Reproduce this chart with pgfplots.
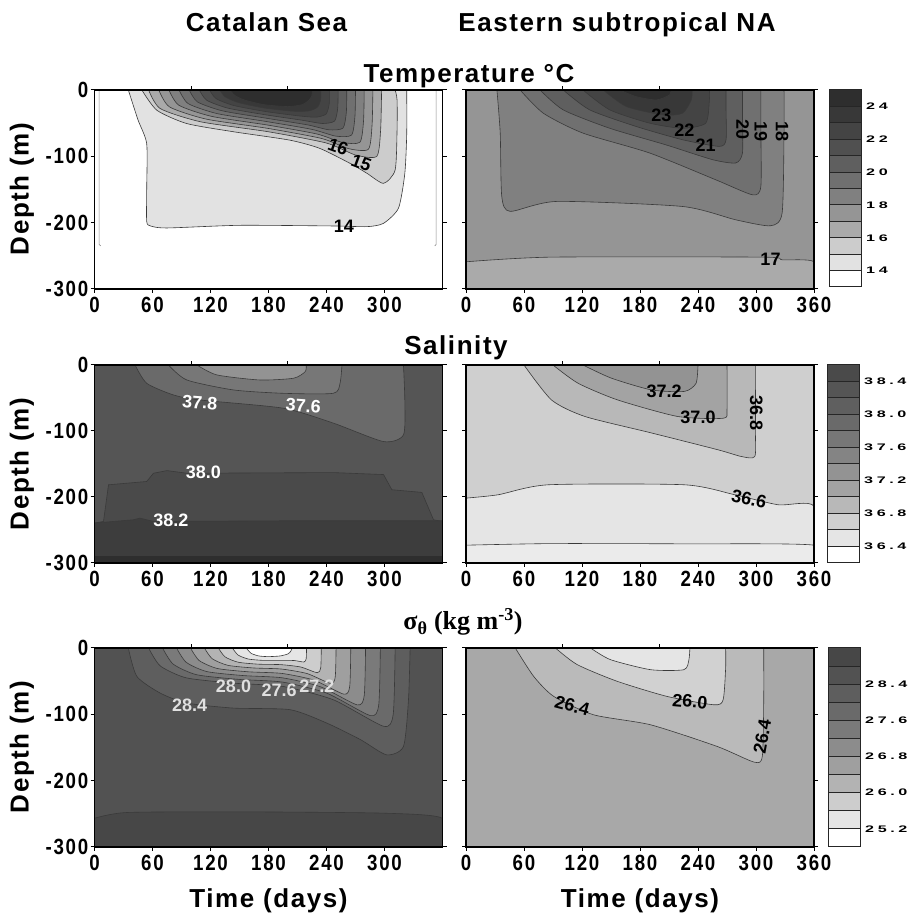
\documentclass[border=0pt]{standalone}
\usepackage{fontspec}
\setmainfont{Liberation Sans}
\newfontfamily\sigfont{Liberation Serif}
\newfontfamily\ttlfont[LetterSpace=6]{Liberation Sans}
\newfontfamily\tickfont[FakeStretch=0.85,LetterSpace=8]{Liberation Sans}
\newfontfamily\cbfont[FakeStretch=1.7,LetterSpace=38]{Liberation Sans}
\usepackage{pgfplots}
\pgfplotsset{compat=1.18}

% temperature shades
\definecolor{t13}{HTML}{FFFFFF}\definecolor{t14}{HTML}{E2E2E2}\definecolor{t15}{HTML}{CCCCCC}
\definecolor{t16}{HTML}{AAAAAA}\definecolor{t17}{HTML}{959595}\definecolor{t18}{HTML}{808080}
\definecolor{t19}{HTML}{707070}\definecolor{t20}{HTML}{5F5F5F}\definecolor{t21}{HTML}{505050}
\definecolor{t22}{HTML}{444444}\definecolor{t23}{HTML}{383838}\definecolor{t24}{HTML}{2E2E2E}
% salinity shades
\definecolor{s0}{HTML}{FFFFFF}\definecolor{s1}{HTML}{E5E5E5}\definecolor{s2}{HTML}{CFCFCF}
\definecolor{s3}{HTML}{B8B8B8}\definecolor{s4}{HTML}{A3A3A3}\definecolor{s5}{HTML}{939393}
\definecolor{s6}{HTML}{848484}\definecolor{s7}{HTML}{777777}\definecolor{s8}{HTML}{6A6A6A}
\definecolor{s9}{HTML}{5F5F5F}\definecolor{s10}{HTML}{555555}\definecolor{s11}{HTML}{4A4A4A}
% sigma shades
\definecolor{g0}{HTML}{FFFFFF}\definecolor{g1}{HTML}{E5E5E5}\definecolor{g2}{HTML}{CDCDCD}
\definecolor{g3}{HTML}{B3B3B3}\definecolor{g4}{HTML}{9F9F9F}\definecolor{g5}{HTML}{8C8C8C}
\definecolor{g6}{HTML}{7A7A7A}\definecolor{g7}{HTML}{6A6A6A}\definecolor{g8}{HTML}{5E5E5E}
\definecolor{g9}{HTML}{525252}\definecolor{g10}{HTML}{474747}
\definecolor{cline}{HTML}{3A3A3A}

\pgfplotsset{
  panel/.style={
    anchor=south west, scale only axis, width=348pt,
    xmin=0, xmax=360, ymin=-300, ymax=0,
    axis on top, axis line style={line width=1.1pt},
    tick align=outside, major tick length=4pt,
    tick style={line width=1pt, black},
    xtick pos=bottom, ytick pos=both,
    ytick={-300,-200,-100,0}, yticklabels={-300,-200,-100,0},
    ticklabel style={font=\tickfont\fontsize{22}{22}\selectfont\bfseries, inner sep=2pt},
    xticklabel style={yshift=-2pt},
    extra description/.code={
      \draw[line width=1pt] (axis description cs:0.2778,1) -- ++(0pt,4pt);
      \draw[line width=1pt] (axis description cs:0.5556,1) -- ++(0pt,4pt);
    },
  },
  lpanel/.style={panel, xtick={0,60,...,300}, xticklabels={0,60,120,180,240,300}},
  rpanel/.style={panel, xtick={0,60,...,360}, xticklabels={0,60,120,180,240,300,360}, yticklabels={}},
  cl/.style={draw=cline, line width=0.6pt, smooth, tension=0.4},
  cbar/.style={
    anchor=south west, scale only axis, width=32pt, xmin=0, xmax=1,
    axis line style={draw=none}, xtick=\empty, yticklabel pos=right,
    major tick length=0pt, ytick style={draw=none}, clip=false,
    yticklabel style={font=\cbfont\fontsize{9.5}{9.5}\selectfont\bfseries, inner sep=0pt, xshift=5pt},
  },
  cb/.style={draw=black!85, line width=1pt},
}
\tikzset{
  ttl/.style={font=\ttlfont\fontsize{26}{26}\selectfont\bfseries, inner sep=0pt},
  lab/.style={font=\fontsize{18}{18}\selectfont\bfseries, inner sep=0pt},
}

\begin{document}
\begin{tikzpicture}
\useasboundingbox (0pt,0pt) rectangle (912pt,919pt);

% ---------------- titles ----------------
\node[ttl, anchor=base] at (266.5pt,887pt) {Catalan Sea};
\node[ttl, anchor=base] at (617pt,887pt) {Eastern subtropical NA};
\node[ttl, anchor=base] at (469pt,836pt) {Temperature °C};
\node[ttl, anchor=base] at (456pt,564pt) {Salinity};
\node[anchor=base, inner sep=0pt, font=\sigfont\fontsize{26}{26}\selectfont\bfseries] at (463pt,289pt) {σ\textsubscript{θ} (kg m\textsuperscript{-3})};
\node[ttl, anchor=base] at (268.5pt,11pt) {Time (days)};
\node[ttl, anchor=base] at (640pt,11pt) {Time (days)};
\node[ttl, rotate=90] at (22pt,730pt) {Depth (m)};
\node[ttl, rotate=90] at (22pt,455pt) {Depth (m)};
\node[ttl, rotate=90] at (22pt,172pt) {Depth (m)};

% ---------------- temperature, Catalan ----------------
\begin{axis}[lpanel, at={(94.5pt,630pt)}, height=199pt, axis background/.style={fill=t13}]
\addplot[cl, fill=t14] coordinates {(35,0)(45,-45)(54,-81)(54,-150)(54,-198)(58,-205)(75,-208)(150,-204)(247,-205)(282,-206)(299,-201)(314.5,-178)(321,-126)(323,-66)(323,0)} -- cycle;
\addplot[cl, fill=t15] coordinates {(49,0)(64.5,-30.5)(95.5,-50.6)(144,-63)(202,-75.6)(233,-88)(264.5,-110.7)(282,-125.7)(299,-140.7)(311,-120.7)(313,-60)(313,-15)(311,0)} -- cycle;
\addplot[cl, fill=t16] coordinates {(56,0)(68,-28)(110,-48)(180,-63)(240,-80)(270,-98)(292,-100)(296,-60)(297,0)} -- cycle;
\addplot[cl, fill=t17] coordinates {(66.5,0)(77.6,-25.5)(115.6,-43.9)(179.4,-57.9)(235,-73.1)(263.1,-88.5)(283.3,-89.4)(287.1,-53.5)(288,0)} -- cycle;
\addplot[cl, fill=t18] coordinates {(77,0)(87.3,-23)(121.3,-39.8)(178.8,-52.8)(230,-66.3)(256.3,-79)(274.5,-78.8)(278.3,-47)(279,0)} -- cycle;
\addplot[cl, fill=t19] coordinates {(87.5,0)(96.9,-20.5)(126.9,-35.6)(178.1,-47.6)(225,-59.4)(249.4,-69.5)(265.8,-68.1)(269.4,-40.5)(270,0)} -- cycle;
\addplot[cl, fill=t20] coordinates {(98,0)(106.5,-18)(132.5,-31.5)(177.5,-42.5)(220,-52.5)(242.5,-60)(257,-57.5)(260.5,-34)(261,0)} -- cycle;
\addplot[cl, fill=t21] coordinates {(108.5,0)(116.1,-15.5)(138.1,-27.4)(176.9,-37.4)(215,-45.6)(235.6,-50.5)(248.3,-46.9)(251.6,-27.5)(252,0)} -- cycle;
\addplot[cl, fill=t22] coordinates {(119,0)(125.8,-13)(143.8,-23.3)(176.3,-32.3)(210,-38.8)(228.8,-41)(239.5,-36.3)(242.8,-21)(243,0)} -- cycle;
\addplot[cl, fill=t23] coordinates {(129.5,0)(135.4,-10.5)(149.4,-19.1)(175.6,-27.1)(205,-31.9)(221.9,-31.5)(230.8,-25.6)(233.9,-14.5)(234,0)} -- cycle;
\addplot[cl, fill=t24] coordinates {(140,0)(145,-8)(155,-15)(175,-22)(200,-25)(215,-22)(222,-15)(225,-8)(225,0)} -- cycle;
\addplot[draw=black!45, line width=0.6pt] coordinates {(4.8,0)(4.8,-233)(6.5,-235)};
\addplot[draw=black!45, line width=0.6pt] coordinates {(353.4,0)(353.4,-233)(352,-235)};
\node[lab, rotate=-20] at (axis cs:252,-86) {16};
\node[lab, rotate=-20] at (axis cs:276,-110) {15};
\node[lab] at (axis cs:258,-205) {14};
\end{axis}

% ---------------- temperature, Eastern NA ----------------
\begin{axis}[rpanel, at={(466pt,630pt)}, height=199pt, axis background/.style={fill=t17}]
\addplot[cl, fill=t16] coordinates {(0,-259)(87,-252)(307,-252)(327,-256)(360,-259)(360,-300)(0,-300)} -- cycle;
\addplot[cl, fill=t18] coordinates {(32,0)(35.4,-65)(37,-160.5)(45.7,-183)(93.8,-168)(224,-175.6)(279,-195.7)(315,-204.7)(327,-185.6)(329,-65)(329,0)} -- cycle;
\addplot[cl, fill=t19] coordinates {(56,0)(80,-35)(121,-65)(190,-95)(258.6,-135.5)(296.4,-158)(305,-145.5)(305,-60)(305,0)} -- cycle;
\addplot[cl, fill=t20] coordinates {(76.6,0)(100.6,-30)(148.7,-57.7)(207,-82.8)(255,-105)(279,-110)(286,-95)(286,-40)(286,0)} -- cycle;
\addplot[cl, fill=t21] coordinates {(100.6,0)(128,-30)(176,-55)(224,-75)(262,-85)(269,-75)(269,-30)(269,0)} -- cycle;
\addplot[cl, fill=t22] coordinates {(121,0)(148.7,-30)(190,-50)(224,-57.7)(248,-50)(251.8,-15)(251.8,0)} -- cycle;
\addplot[cl, fill=t23] coordinates {(142,0)(166,-25)(203.7,-37.6)(224,-35)(233,-15)(234,0)} -- cycle;
\addplot[cl, fill=t24] coordinates {(159,0)(176,-10)(197,-15)(210.6,-7.5)(212,0)} -- cycle;
\node[lab] at (axis cs:202,-37.6) {23};
\node[lab] at (axis cs:226,-60) {22};
\node[lab] at (axis cs:248,-84) {21};
\node[lab, rotate=-90] at (axis cs:286,-60) {20};
\node[lab, rotate=-90] at (axis cs:305,-62.7) {19};
\node[lab, rotate=-90] at (axis cs:327,-62.7) {18};
\node[lab] at (axis cs:315,-256) {17};
\end{axis}

% ---------------- temperature colour bar ----------------
\begin{axis}[cbar, at={(829pt,632pt)}, height=197pt, ymin=13, ymax=25,
  ytick={14,16,18,20,22,24}, yticklabels={14,16,18,20,22,24}]
\addplot[cb, fill=t13] coordinates {(0,13)(1,13)(1,14)(0,14)} -- cycle;
\addplot[cb, fill=t14] coordinates {(0,14)(1,14)(1,15)(0,15)} -- cycle;
\addplot[cb, fill=t15] coordinates {(0,15)(1,15)(1,16)(0,16)} -- cycle;
\addplot[cb, fill=t16] coordinates {(0,16)(1,16)(1,17)(0,17)} -- cycle;
\addplot[cb, fill=t17] coordinates {(0,17)(1,17)(1,18)(0,18)} -- cycle;
\addplot[cb, fill=t18] coordinates {(0,18)(1,18)(1,19)(0,19)} -- cycle;
\addplot[cb, fill=t19] coordinates {(0,19)(1,19)(1,20)(0,20)} -- cycle;
\addplot[cb, fill=t20] coordinates {(0,20)(1,20)(1,21)(0,21)} -- cycle;
\addplot[cb, fill=t21] coordinates {(0,21)(1,21)(1,22)(0,22)} -- cycle;
\addplot[cb, fill=t22] coordinates {(0,22)(1,22)(1,23)(0,23)} -- cycle;
\addplot[cb, fill=t23] coordinates {(0,23)(1,23)(1,24)(0,24)} -- cycle;
\addplot[cb, fill=t24] coordinates {(0,24)(1,24)(1,25)(0,25)} -- cycle;
\end{axis}

% ---------------- salinity, Catalan ----------------
\begin{axis}[lpanel, at={(94.5pt,356pt)}, height=198pt, axis background/.style={fill=s10}]
\addplot[draw=cline, line width=0.6pt, fill=s11] coordinates {(0,-239.5)(9.3,-237)(14.5,-181.5)(54,-176.5)(61,-164)(75,-160)(95.5,-164)(247,-163)(299,-166)(307.6,-189)(338.6,-193)(350.7,-234.5)(360,-237)(360,-300)(0,-300)} -- cycle;
\addplot[draw=cline, line width=0.6pt, fill=black!76] coordinates {(0,-239.5)(40,-234.5)(47,-232)(61,-237)(200,-236)(360,-236)(360,-300)(0,-300)} -- cycle;
\addplot[draw=none, fill=black!82] coordinates {(0,-289)(360,-289)(360,-300)(0,-300)} -- cycle;
\addplot[cl, fill=s8] coordinates {(42,0)(54,-27.7)(81.7,-45.4)(109,-53)(195.5,-65.5)(247,-88)(299,-116)(319.6,-106)(321,-53)(319.6,0)} -- cycle;
\addplot[cl, fill=s7] coordinates {(76.5,0)(95.5,-22.7)(143.8,-37.8)(195.5,-42.9)(247,-42.9)(254,-27.7)(256,0)} -- cycle;
\addplot[cl, fill=s5] coordinates {(106,0)(126.5,-15)(171,-22.7)(206,-20)(218,-10)(219,0)} -- cycle;
\node[lab, white, rotate=-4] at (axis cs:109,-57) {37.8};
\node[lab, white, rotate=-4] at (axis cs:216,-62) {37.6};
\node[lab, white] at (axis cs:112.7,-163) {38.0};
\node[lab, white] at (axis cs:79,-236) {38.2};
\end{axis}

% ---------------- salinity, Eastern NA ----------------
\begin{axis}[rpanel, at={(466pt,356pt)}, height=198pt, axis background/.style={fill=s2}]
\addplot[cl, fill=s1] coordinates {(0,-201.7)(33.4,-196.6)(85,-181.5)(226,-181.5)(278,-196.6)(323,-211.8)(360,-214)(360,-300)(0,-300)} -- cycle;
\addplot[cl, fill=black!8] coordinates {(0,-273)(88.5,-270.6)(226,-271)(360,-273)(360,-300)(0,-300)} -- cycle;
\addplot[cl, fill=s3] coordinates {(60,0)(88.5,-53)(123,-78)(192,-103)(261,-128.6)(285,-138.7)(298.7,-138.7)(299.4,-100)(299.4,0)} -- cycle;
\addplot[cl, fill=s4] coordinates {(90,0)(116,-27.7)(157,-53)(219,-78)(266,-80.7)(270,-68)(270,0)} -- cycle;
\addplot[cl, fill=s5] coordinates {(121,0)(150.5,-20)(192,-37.8)(226,-40)(238,-27.7)(240,0)} -- cycle;
\node[lab] at (axis cs:205,-40.3) {37.2};
\node[lab] at (axis cs:240,-79) {37.0};
\node[lab, rotate=-90] at (axis cs:300.4,-73) {36.8};
\node[lab, rotate=-12] at (axis cs:292.8,-203) {36.6};
\end{axis}

% ---------------- salinity colour bar ----------------
\begin{axis}[cbar, at={(827pt,356pt)}, height=198pt, ymin=36.2, ymax=38.6,
  ytick={36.4,36.8,37.2,37.6,38.0,38.4}, yticklabels={36.4,36.8,37.2,37.6,38.0,38.4}]
\addplot[cb, fill=s0] coordinates {(0,36.2)(1,36.2)(1,36.4)(0,36.4)} -- cycle;
\addplot[cb, fill=s1] coordinates {(0,36.4)(1,36.4)(1,36.6)(0,36.6)} -- cycle;
\addplot[cb, fill=s2] coordinates {(0,36.6)(1,36.6)(1,36.8)(0,36.8)} -- cycle;
\addplot[cb, fill=s3] coordinates {(0,36.8)(1,36.8)(1,37.0)(0,37.0)} -- cycle;
\addplot[cb, fill=s4] coordinates {(0,37.0)(1,37.0)(1,37.2)(0,37.2)} -- cycle;
\addplot[cb, fill=s5] coordinates {(0,37.2)(1,37.2)(1,37.4)(0,37.4)} -- cycle;
\addplot[cb, fill=s6] coordinates {(0,37.4)(1,37.4)(1,37.6)(0,37.6)} -- cycle;
\addplot[cb, fill=s7] coordinates {(0,37.6)(1,37.6)(1,37.8)(0,37.8)} -- cycle;
\addplot[cb, fill=s8] coordinates {(0,37.8)(1,37.8)(1,38.0)(0,38.0)} -- cycle;
\addplot[cb, fill=s9] coordinates {(0,38.0)(1,38.0)(1,38.2)(0,38.2)} -- cycle;
\addplot[cb, fill=s10] coordinates {(0,38.2)(1,38.2)(1,38.4)(0,38.4)} -- cycle;
\addplot[cb, fill=s11] coordinates {(0,38.4)(1,38.4)(1,38.6)(0,38.6)} -- cycle;
\end{axis}

% ---------------- sigma, Catalan ----------------
\begin{axis}[lpanel, at={(94.5pt,72pt)}, height=199pt, axis background/.style={fill=g9}]
\addplot[cl, fill=g10] coordinates {(0,-256.7)(33.4,-248)(150,-247)(299,-249)(360,-256.7)(360,-300)(0,-300)} -- cycle;
\addplot[cl, fill=g8] coordinates {(35,0)(43.8,-42.8)(68,-68)(95.5,-83)(143.8,-90.6)(202.4,-93)(240,-113)(275,-138)(302,-161)(319.6,-148.5)(324.8,-78)(326.5,0)} -- cycle;
\addplot[cl, fill=g7] coordinates {(56,0)(68,-27)(95,-45)(144,-53)(195,-58)(247,-78)(299,-118)(309,-100)(311,0)} -- cycle;
\addplot[cl, fill=g6] coordinates {(70.4,0)(81.4,-24.3)(105.7,-40.3)(149.1,-47.3)(194.6,-51.4)(240.3,-68.1)(285.3,-101.9)(294,-86)(295.7,0)} -- cycle;
\addplot[cl, fill=g5] coordinates {(84.9,0)(94.9,-21.6)(116.4,-35.6)(154.3,-41.6)(194.1,-44.9)(233.6,-58.3)(271.6,-85.7)(279,-72)(280.4,0)} -- cycle;
\addplot[cl, fill=g4] coordinates {(99.3,0)(108.3,-18.9)(127.1,-30.9)(159.4,-35.9)(193.7,-38.3)(226.9,-48.4)(257.9,-69.6)(264,-58)(265.1,0)} -- cycle;
\addplot[cl, fill=g3] coordinates {(113.7,0)(121.7,-16.1)(137.9,-26.1)(164.6,-30.1)(193.3,-31.7)(220.1,-38.6)(244.1,-53.4)(249,-44)(249.9,0)} -- cycle;
\addplot[cl, fill=g2] coordinates {(128.1,0)(135.1,-13.4)(148.6,-21.4)(169.7,-24.4)(192.9,-25.1)(213.4,-28.7)(230.4,-37.3)(234,-30)(234.6,0)} -- cycle;
\addplot[cl, fill=g1] coordinates {(142.6,0)(148.6,-10.7)(159.3,-16.7)(174.9,-18.7)(192.4,-18.6)(206.7,-18.9)(216.7,-21.1)(219,-16)(219.3,0)} -- cycle;
\addplot[cl, fill=g0] coordinates {(157,0)(162,-8)(170,-12)(180,-13)(192,-12)(200,-9)(203,-5)(204,-2)(204,0)} -- cycle;
\node[lab, black!12] at (axis cs:143.8,-58) {28.0};
\node[lab, black!12] at (axis cs:191,-64) {27.6};
\node[lab, black!12] at (axis cs:230,-58) {27.2};
\node[lab, black!12] at (axis cs:98.3,-87) {28.4};
\end{axis}

% ---------------- sigma, Eastern NA ----------------
\begin{axis}[rpanel, at={(466pt,72pt)}, height=199pt, axis background/.style={fill=black!34}]
\addplot[cl, fill=black!27] coordinates {(51,0)(70,-42.8)(90.8,-73)(132,-100.7)(191,-115.8)(260,-148.5)(298,-172)(306.5,-163.6)(308,-80)(308,0)} -- cycle;
\addplot[cl, fill=black!18] coordinates {(92.5,0)(115,-25)(156,-50)(208,-73)(256.5,-85.6)(266,-78)(268.6,-30)(268.6,0)} -- cycle;
\addplot[cl, fill=black!10] coordinates {(128.8,0)(149.5,-17.6)(191,-32.7)(225.4,-32.7)(230.6,-17.6)(231.6,0)} -- cycle;
\node[lab, rotate=-15] at (axis cs:109.8,-87) {26.4};
\node[lab, rotate=-5] at (axis cs:231.6,-80.5) {26.0};
\node[lab, rotate=80] at (axis cs:306.5,-133.4) {26.4};
\end{axis}

% ---------------- sigma colour bar ----------------
\begin{axis}[cbar, at={(828pt,72pt)}, height=199pt, ymin=24.8, ymax=29.2,
  ytick={25.2,26.0,26.8,27.6,28.4}, yticklabels={25.2,26.0,26.8,27.6,28.4}]
\addplot[cb, fill=g0] coordinates {(0,24.8)(1,24.8)(1,25.2)(0,25.2)} -- cycle;
\addplot[cb, fill=g1] coordinates {(0,25.2)(1,25.2)(1,25.6)(0,25.6)} -- cycle;
\addplot[cb, fill=g2] coordinates {(0,25.6)(1,25.6)(1,26.0)(0,26.0)} -- cycle;
\addplot[cb, fill=g3] coordinates {(0,26.0)(1,26.0)(1,26.4)(0,26.4)} -- cycle;
\addplot[cb, fill=g4] coordinates {(0,26.4)(1,26.4)(1,26.8)(0,26.8)} -- cycle;
\addplot[cb, fill=g5] coordinates {(0,26.8)(1,26.8)(1,27.2)(0,27.2)} -- cycle;
\addplot[cb, fill=g6] coordinates {(0,27.2)(1,27.2)(1,27.6)(0,27.6)} -- cycle;
\addplot[cb, fill=g7] coordinates {(0,27.6)(1,27.6)(1,28.0)(0,28.0)} -- cycle;
\addplot[cb, fill=g8] coordinates {(0,28.0)(1,28.0)(1,28.4)(0,28.4)} -- cycle;
\addplot[cb, fill=g9] coordinates {(0,28.4)(1,28.4)(1,28.8)(0,28.8)} -- cycle;
\addplot[cb, fill=g10] coordinates {(0,28.8)(1,28.8)(1,29.2)(0,29.2)} -- cycle;
\end{axis}
\end{tikzpicture}
\end{document}
